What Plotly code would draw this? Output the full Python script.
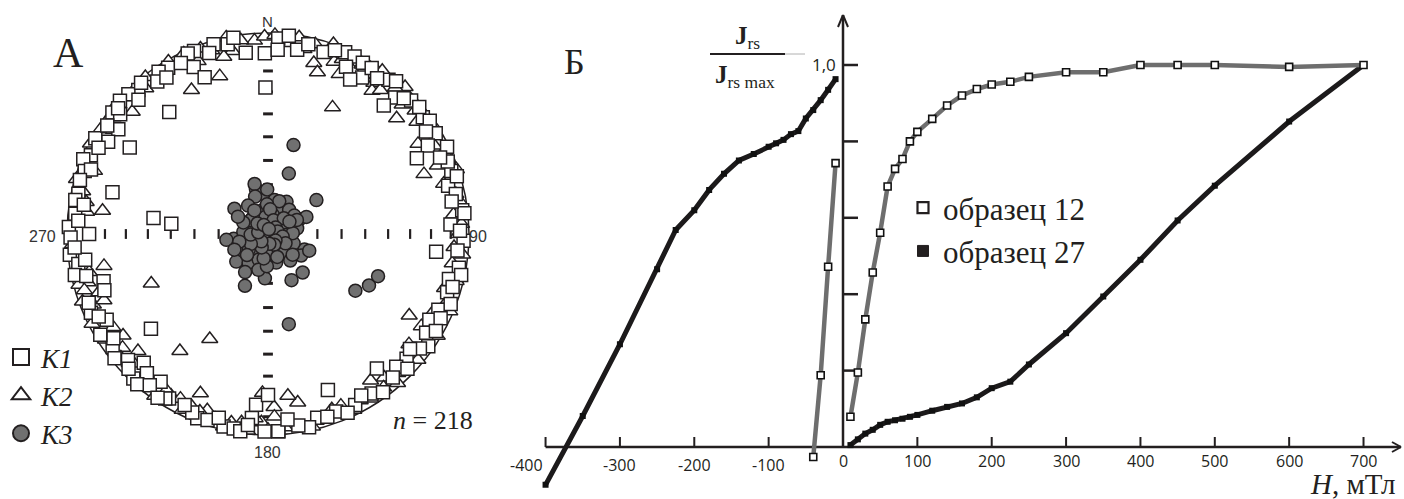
import numpy as np
import plotly.graph_objects as go

W, H = 1404, 499

# ---------------- Panel A: stereonet data (declination / plunge, degrees) ----------------
K1_dec = [344, 348, 353, 359, 338, 336, 329, 326, 324, 336, 318, 315, 312, 308, 309, 305, 300, 299,
          294, 292, 289, 282, 280, 276, 272,
          3, 3, 9, 23, 26, 29, 25, 31, 28, 32, 38, 43, 47, 53, 55, 59, 61, 64, 71, 68, 75, 83, 87, 84,
          269, 270, 264, 261, 258, 257, 254, 251, 246, 242, 234, 231, 228, 224, 223, 221, 221, 216,
          218, 211, 212, 201, 198, 193, 190, 185, 184, 181, 188, 177,
          92, 100, 104, 108, 114, 118, 122, 125, 132, 136, 141, 147, 153, 159, 165, 168, 177, 180,
          359, 321, 302, 285, 278, 276, 231, 159, 96, 338, 42, 63,
          350, 342, 333, 327, 320, 316, 310, 304, 297, 290, 286, 279, 274,
          6, 12, 17, 20, 35, 40, 45, 50, 57, 66, 73, 78, 80, 89,
          95, 102, 106, 111, 116, 120, 127, 129, 134, 139, 144, 150, 156, 162, 171, 174,
          186, 195, 203, 206, 214, 226, 236, 239, 244, 249, 262, 266]
K1_inc = [2, 4, 10, 11, 2, 2, 4, 3, 7, 10, 4, 2, 1, 2, 6, 10, 9, 2,
          4, 1, 4, 4, 3, 4, 1,
          3, 9, 8, 2, 2, 3, 9, 10, 14, 3, 3, 8, 3, 4, 2, 3, 10, 1, 4, 4, 8, 3, 10, 2,
          2, 12, 1, 5, 2, 8, 16, 15, 4, 10, 5, 2, 7, 12, 2, 9, 1, 10,
          5, 5, 4, 2, 3, 2, 2, 9, 16, 2, 1, 2,
          3, 4, 8, 7, 8, 10, 8, 3, 8, 9, 15, 6, 5, 6, 6, 2, 2, 21,
          28, 23, 20, 21, 42, 50, 26, 18, 17, 17, 15, 18,
          1, 6, 5, 8, 2, 8, 3, 4, 6, 7, 3, 8, 6,
          1, 4, 6, 3, 6, 1, 5, 2, 7, 7, 2, 5, 8, 5,
          6, 2, 5, 3, 5, 4, 6, 10, 4, 6, 3, 8, 3, 5, 4, 8,
          5, 6, 4, 6, 2, 4, 8, 3, 7, 5, 9, 4]

K2_dec = [348, 356, 359, 349, 346, 340, 335, 330, 322, 317, 315, 312, 307, 302, 297, 290, 286, 277,
          343, 332, 278,
          9, 14, 19, 15, 17, 21, 24, 27, 32, 35, 36, 38, 35, 43, 53, 55, 59, 65, 68, 74, 78, 87,
          27, 48, 69,
          255, 255, 251, 250, 248, 248, 239, 235, 228, 232, 215, 211, 208, 204, 199, 196, 191, 188, 182,
          259, 247, 209, 217, 203, 182,
          94, 96, 99, 110, 115, 121, 121, 128, 130, 137, 141, 145, 143, 151, 157, 160, 170, 173, 178, 178,
          120, 186,
          352, 343, 338, 333, 327, 320, 310, 304, 299, 293, 283, 280, 273,
          2, 6, 11, 23, 29, 41, 46, 50, 57, 62, 71, 81, 84,
          90, 104, 107, 113, 118, 124, 133, 139, 148, 154, 163, 167, 175,
          180, 184, 193, 201, 206, 213, 219, 226, 230, 237, 243, 253, 258, 263, 267]
K2_inc = [0, 4, 2, 8, 10, 2, 1, 1, 1, 3, 4, 10, 4, 2, 1, 9, 1, 10,
          19, 20, 18,
          1, 3, 0, 13, 17, 9, 14, 9, 10, 9, 13, 10, 1, 0, 8, 3, 14, 4, 10, 10, 5, 4,
          30, 15, 18,
          8, 3, 12, 2, 7, 13, 11, 13, 14, 9, 2, 7, 8, 7, 8, 5, 5, 6, 7,
          18, 37, 40, 28, 15, 22,
          8, 3, 8, 5, 10, 12, 2, 12, 3, 6, 9, 12, 5, 6, 8, 8, 16, 20, 15, 10,
          20, 2,
          3, 5, 8, 6, 4, 6, 1, 8, 5, 3, 6, 9, 4,
          1, 5, 7, 6, 4, 4, 8, 5, 2, 7, 1, 3, 8,
          6, 4, 9, 2, 7, 5, 8, 2, 4, 3, 5, 2, 4,
          3, 9, 2, 6, 3, 8, 5, 8, 5, 4, 2, 5, 10, 6, 3]

K3_dec = [16, 19, 55, 307, 262, 65, 113, 123, 138, 153, 184, 204, 123, 117, 111, 167, 345, 358,
          345, 359, 341, 325, 11, 30, 349, 27, 41, 55, 66, 317, 1, 35, 79, 288, 275, 297, 15, 65,
          262, 247, 250, 192, 126, 110, 237, 215, 165, 139, 229, 214, 200, 164, 211, 195, 182, 112,
          339, 14, 257, 97, 93, 231, 184, 140, 64, 19, 358, 308,
          352, 5, 22, 45, 50, 75, 88, 100, 118, 131, 150, 158, 172, 190, 205, 222, 240, 255, 268,
          280, 295, 315, 330, 335, 10, 60, 130, 245, 225, 300]
K3_inc = [52, 64, 66, 73, 76, 76, 74, 74, 69, 69, 72, 67, 47, 43, 41, 52, 71, 75,
          69, 72, 74, 76, 76, 75, 80, 79, 77, 77, 73, 81, 84, 83, 78, 81, 80, 87, 87, 83,
          73, 79, 83, 88, 84, 79, 76, 82, 82, 80, 73, 76, 79, 78, 72, 75, 77, 72,
          81, 82, 85, 87, 83, 80, 82, 76, 77, 76, 78, 81,
          83, 80, 84, 81, 86, 86, 80, 84, 82, 86, 85, 80, 86, 80, 84, 86, 82, 78, 83,
          86, 79, 84, 79, 86, 88, 80, 77, 75, 78, 76]

net_tick_inc = [10, 20, 30, 40, 50, 60, 70, 80]
n_samples = 218

# ---------------- Panel B: IRM acquisition / back-field data ----------------
H12_neg = [-40, -30, -20, -10]
J12_neg = [-0.026, 0.188, 0.472, 0.743]
H12_pos = [10, 20, 30, 40, 50, 60, 70, 80, 90, 100, 120, 140, 160, 180, 200, 225, 250, 300, 350,
           400, 450, 500, 600, 700]
J12_pos = [0.079, 0.195, 0.334, 0.457, 0.561, 0.682, 0.728, 0.754, 0.800, 0.825, 0.859, 0.894,
           0.920, 0.937, 0.949, 0.956, 0.969, 0.981, 0.981, 1.0, 1.0, 1.0, 0.995, 1.0]

H27_neg = [-400, -350, -300, -250, -225, -200, -180, -160, -140, -120, -100, -90, -80, -70, -60,
           -50, -40, -30, -20, -10]
J27_neg = [-0.099, 0.081, 0.269, 0.465, 0.568, 0.620, 0.673, 0.715, 0.750, 0.767, 0.786, 0.795,
           0.804, 0.819, 0.827, 0.860, 0.882, 0.908, 0.935, 0.963]
H27_pos = [10, 20, 30, 40, 50, 60, 70, 80, 90, 100, 120, 140, 160, 180, 200, 225, 250, 300, 350,
           400, 450, 500, 600, 700]
J27_pos = [0.005, 0.020, 0.035, 0.045, 0.058, 0.066, 0.070, 0.074, 0.079, 0.084, 0.095, 0.105,
           0.114, 0.130, 0.154, 0.171, 0.216, 0.298, 0.394, 0.490, 0.593, 0.684, 0.852, 1.0]

x_ticks_neg = [-400, -300, -200, -100]
x_ticks_pos = [100, 200, 300, 400, 500, 600, 700]
y_ticks = [0.2, 0.4, 0.6, 0.8, 1.0]

# ---------------- calibration of the layout (pixels) ----------------
SPLIT = 0.38
CX, CY, R = 268, 234, 201          # stereonet centre and radius
X0B, SX = 843, 0.7436              # panel B: pixel of H=0, px per mT
Y0B, SY = 447, 382                 # panel B: pixel of J=0, px per unit

INK = "#231f20"


def project(dec, inc):
    d = np.radians(np.asarray(dec, float))
    i = np.asarray(inc, float)
    r = np.sqrt(2) * np.sin(np.radians(90 - i) / 2)
    return r * np.sin(d), r * np.cos(d)


def pxp(x):
    return x / W


def pyp(y):
    return 1 - y / H


fig = go.Figure()

# stereonet diameter ticks
tr = np.sqrt(2) * np.sin(np.radians(90 - np.array(net_tick_inc, float)) / 2)
fig.add_trace(go.Scatter(x=np.concatenate([tr, -tr]), y=np.zeros(2 * len(tr)), mode="markers",
                         marker=dict(symbol="line-ns", size=7, line=dict(width=2.2, color=INK)),
                         showlegend=False, hoverinfo="skip", xaxis="x", yaxis="y"))
fig.add_trace(go.Scatter(x=np.zeros(2 * len(tr)), y=np.concatenate([tr, -tr]), mode="markers",
                         marker=dict(symbol="line-ew", size=7, line=dict(width=3, color=INK)),
                         showlegend=False, hoverinfo="skip", xaxis="x", yaxis="y"))

x2, y2 = project(K2_dec, K2_inc)
fig.add_trace(go.Scatter(x=x2, y=y2, mode="markers", name="K2", showlegend=False,
                         marker=dict(symbol="triangle-up", size=14, color="white",
                                     line=dict(width=1.5, color=INK)), xaxis="x", yaxis="y"))
x1, y1 = project(K1_dec, K1_inc)
fig.add_trace(go.Scatter(x=x1, y=y1, mode="markers", name="K1", showlegend=False,
                         marker=dict(symbol="square", size=13, color="white",
                                     line=dict(width=1.5, color=INK)), xaxis="x", yaxis="y"))
x3, y3 = project(K3_dec, K3_inc)
fig.add_trace(go.Scatter(x=x3, y=y3, mode="markers", name="K3", showlegend=False,
                         marker=dict(symbol="circle", size=13, color="#707070",
                                     line=dict(width=1.5, color=INK)), xaxis="x", yaxis="y"))

# legend A entries
for nm, sym, col in [("K1", "square", "white"), ("K2", "triangle-up", "white"), ("K3", "circle", "#707070")]:
    fig.add_trace(go.Scatter(x=[None], y=[None], mode="markers", name=f"<i>{nm}</i>",
                             marker=dict(symbol=sym, size=18, color=col, line=dict(width=2, color=INK)),
                             legend="legend", xaxis="x", yaxis="y"))

# ---------------- Panel B curves ----------------
fig.add_trace(go.Scatter(x=H27_neg + [None] + H27_pos, y=J27_neg + [None] + J27_pos,
                         mode="lines+markers", showlegend=False, connectgaps=False,
                         line=dict(color="#1c1a1b", width=5),
                         marker=dict(symbol="square", size=6, color="#111111"),
                         xaxis="x2", yaxis="y2"))
fig.add_trace(go.Scatter(x=H12_neg + [None] + H12_pos, y=J12_neg + [None] + J12_pos,
                         mode="lines+markers", showlegend=False, connectgaps=False,
                         line=dict(color="#6e6e6e", width=4.5),
                         marker=dict(symbol="square", size=7, color="white",
                                     line=dict(width=1.6, color="#111111")),
                         xaxis="x2", yaxis="y2"))
fig.add_trace(go.Scatter(x=[None], y=[None], mode="markers", name="образец 12", legend="legend2",
                         marker=dict(symbol="square", size=11, color="white", line=dict(width=2.2, color=INK)),
                         xaxis="x2", yaxis="y2"))
fig.add_trace(go.Scatter(x=[None], y=[None], mode="markers", name="образец 27", legend="legend2",
                         marker=dict(symbol="square", size=11, color=INK, line=dict(width=1, color=INK)),
                         xaxis="x2", yaxis="y2"))

shapes = []
# stereonet primitive circle
shapes.append(dict(type="circle", xref="x", yref="y", x0=-1, y0=-1, x1=1, y1=1,
                   line=dict(color=INK, width=1.5), layer="below"))

# panel B axes
ux = 1 / SX   # mT per pixel
uy = 1 / SY   # J per pixel
x_end = (1401 - X0B) * ux
y_end = (Y0B - 15) * uy
ax_line = dict(color=INK, width=2.5)
shapes.append(dict(type="line", xref="x2", yref="y2", x0=x_ticks_neg[0], y0=0, x1=x_end, y1=0,
                   line=ax_line, layer="below"))
shapes.append(dict(type="line", xref="x2", yref="y2", x0=0, y0=0, x1=0, y1=y_end,
                   line=ax_line, layer="below"))
# arrow heads
for s in (-1, 1):
    shapes.append(dict(type="line", xref="x2", yref="y2", x0=x_end, y0=0, x1=x_end - 9 * ux,
                       y1=s * 5 * uy, line=dict(color=INK, width=2), layer="below"))
    shapes.append(dict(type="line", xref="x2", yref="y2", x0=0, y0=y_end, x1=s * 5 * ux,
                       y1=y_end - 12 * uy, line=dict(color=INK, width=2), layer="below"))
for t in x_ticks_neg + x_ticks_pos:
    shapes.append(dict(type="line", xref="x2", yref="y2", x0=t, y0=0, x1=t, y1=10 * uy,
                       line=dict(color=INK, width=2), layer="below"))
for t in y_ticks:
    shapes.append(dict(type="line", xref="x2", yref="y2", x0=0, y0=t, x1=15 * ux, y1=t,
                       line=dict(color=INK, width=2.5), layer="below"))
# fraction bar of the axis title
shapes.append(dict(type="line", xref="paper", yref="paper", x0=pxp(710), y0=pyp(54), x1=pxp(785),
                   y1=pyp(54), line=dict(color=INK, width=2)))
shapes.append(dict(type="line", xref="paper", yref="paper", x0=pxp(785), y0=pyp(54), x1=pxp(805),
                   y1=pyp(54), line=dict(color="#b0b0b0", width=1)))

ann = []
sans = "Open Sans"
serif = "Liberation Serif"


def add_text(text, x, y, size, family, xanchor="center", yanchor="middle", color=INK):
    ann.append(dict(text=text, x=pxp(x), y=pyp(y), xref="paper", yref="paper", showarrow=False,
                    xanchor=xanchor, yanchor=yanchor, font=dict(size=size, family=family, color=color)))


# stereonet labels
add_text("N", 267, 21, 15, "Liberation Sans", color="#333")
add_text("270", 58, 236, 16, "Liberation Sans", xanchor="right", color="#333")
add_text("90", 478, 236, 16, "Liberation Sans", color="#333")
add_text("180", 267, 452, 16, "Liberation Sans", color="#333")
add_text("А", 68, 53, 42, serif)
add_text(f"<i>n</i> = {n_samples}", 433, 420, 26, serif)

# panel B labels
add_text("Б", 574, 62, 36, serif)
add_text("<b>J</b><sub>rs</sub>", 747, 38, 25, serif)
add_text("<b>J</b><sub>rs max</sub>", 745, 76, 25, serif)
add_text("1,0", 838, 64, 17, sans, xanchor="right")
add_text("<i>H</i>, мТл", 1398, 484, 29, serif, xanchor="right")

for t in x_ticks_neg:
    xpix = X0B + t * SX
    if t == x_ticks_neg[0]:
        xpix -= 19
    add_text(str(t), xpix, 465, 16, sans)
add_text("0", X0B, 461, 16, sans)
for t in x_ticks_pos:
    add_text(str(t), X0B + t * SX, 461, 16, sans)

fig.update_layout(
    width=W, height=H, margin=dict(l=0, r=0, t=0, b=0),
    paper_bgcolor="white", plot_bgcolor="white",
    xaxis=dict(domain=[0, SPLIT], range=[-CX / R, (SPLIT * W - CX) / R], visible=False, fixedrange=True),
    yaxis=dict(domain=[0, 1], range=[(CY - H) / R, CY / R], visible=False, fixedrange=True),
    xaxis2=dict(domain=[SPLIT, 1], range=[(SPLIT * W - X0B) / SX, (W - X0B) / SX], visible=False,
                fixedrange=True),
    yaxis2=dict(domain=[0, 1], range=[(Y0B - H) / SY, Y0B / SY], visible=False, fixedrange=True,
                anchor="x2"),
    shapes=shapes, annotations=ann,
    legend=dict(x=pxp(1), y=pyp(333), xanchor="left", yanchor="top", bgcolor="rgba(0,0,0,0)",
                font=dict(family=serif, size=27, color=INK), borderwidth=0),
    legend2=dict(x=pxp(903), y=pyp(181), xanchor="left", yanchor="top", bgcolor="rgba(0,0,0,0)",
                 font=dict(family=serif, size=31, color=INK), borderwidth=0),
    showlegend=True,
)

fig.write_html("out.html", config={"displayModeBar": False},
               post_script="document.body.style.margin='0px';")
